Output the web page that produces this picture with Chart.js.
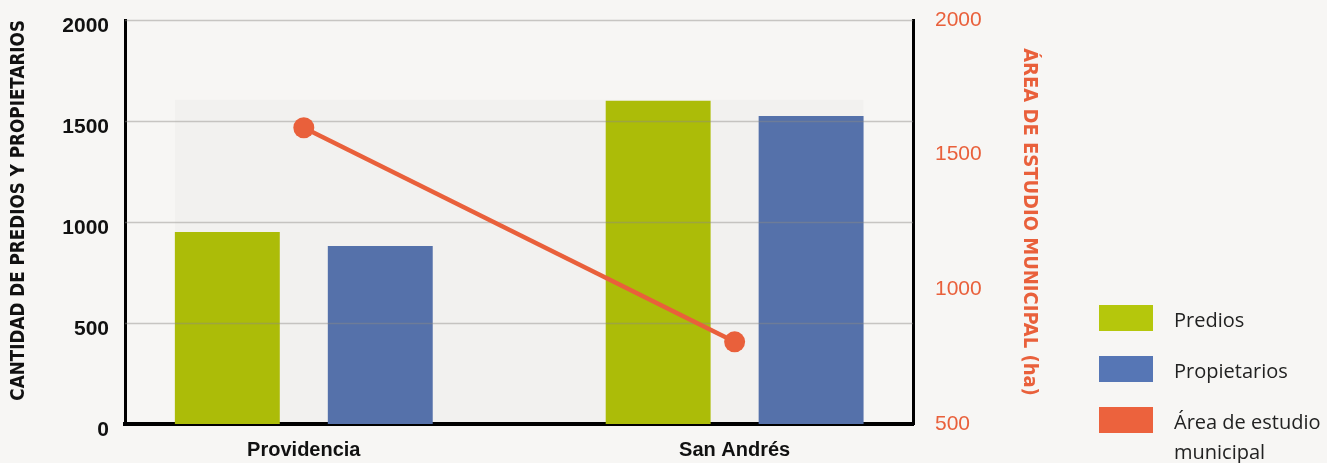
<!DOCTYPE html>
<html lang="es">
<head>
<meta charset="utf-8">
<title>Predios, propietarios y área de estudio</title>
<script src="https://cdn.jsdelivr.net/npm/chart.js@4.4.1/dist/chart.umd.min.js"></script>
<style>
    html, body {
        margin: 0;
        padding: 0;
        background: #f7f6f4;
    }
    .chart-wrap {
        position: relative;
        width: 1327px;
        height: 463px;
    }
    .legend {
        position: absolute;
        left: 1099px;
        top: 305px;
        font-family: 'Open Sans', 'Noto Sans', sans-serif;
        font-size: 20px;
        color: #222;
    }
    .legend-item {
        display: flex;
        align-items: flex-start;
        height: 51px;
    }
    .legend-swatch {
        width: 54px;
        height: 26px;
        flex: none;
    }
    .legend-label {
        margin-left: 21px;
        line-height: 30px;
        margin-top: 0;
    }
</style>
</head>
<body>
<div class="chart-wrap">
    <canvas id="areaChart" width="1327" height="463"></canvas>
    <div class="legend" id="areaLegend"></div>
</div>
<script>
const categories = ['Providencia', 'San Andrés'];
const predios = [950, 1600];
const propietarios = [881, 1525];
const areaEstudioHa = [1600, 805];
const countTicks = [0, 500, 1000, 1500, 2000];
const areaTicks = [500, 1000, 1500, 2000];

const legendItems = [
    { label: 'Predios', color: '#b5c70c' },
    { label: 'Propietarios', color: '#5676b5' },
    { label: 'Área de estudio<br>municipal', color: '#ec623d' },
];

document.addEventListener('DOMContentLoaded', () => {
    const chartElement = document.getElementById('areaChart');
    const legendElement = document.getElementById('areaLegend');

    const black = '#111111';
    const orange = '#e9603b';
    const tickFont = { family: "'Liberation Sans', Arial, sans-serif", size: 21, weight: 'bold' };
    const titleFamily = "'Liberation Sans Narrow', 'DejaVu Sans Condensed', sans-serif";

    const toPoints = (values) => values.map((value, index) => ({ x: index, y: value }));
    const plainNumber = (value) => String(value);

    // keep the plot box fixed: the reference puts it at 125..913 x 20..424
    const fixVertical = (width) => (scale) => {
        scale.width = width;
        scale.paddingTop = 0;
        scale.paddingBottom = 0;
    };

    // soft panel behind the bars, like the printed original
    const panelPlugin = {
        id: 'panel',
        beforeDatasetsDraw: (chart) => {
            const bars = [0, 1].flatMap((i) => chart.getDatasetMeta(i).data);
            if (bars.length === 0) {
                return;
            }
            const left = Math.min(...bars.map((bar) => bar.x - bar.width / 2));
            const right = Math.max(...bars.map((bar) => bar.x + bar.width / 2));
            const top = Math.min(...bars.map((bar) => bar.y)) - 1;
            const { ctx, chartArea } = chart;
            ctx.save();
            ctx.fillStyle = 'rgba(0, 0, 0, 0.02)';
            ctx.fillRect(left, top, right - left, chartArea.bottom - top);
            ctx.restore();
        },
    };

    // grid lines sit over the bars but under the line
    const gridPlugin = {
        id: 'gridOverBars',
        beforeDatasetDraw: (chart, args) => {
            if (args.index !== 2) {
                return;
            }
            const { ctx, chartArea, scales } = chart;
            ctx.save();
            ctx.strokeStyle = 'rgba(140, 138, 134, 0.45)';
            ctx.lineWidth = 1.5;
            countTicks.filter((value) => value > 0).forEach((value) => {
                const y = Math.round(scales.y.getPixelForValue(value)) + 0.5;
                ctx.beginPath();
                ctx.moveTo(chartArea.left, y);
                ctx.lineTo(chartArea.right, y);
                ctx.stroke();
            });
            ctx.restore();
        },
    };

    new Chart(chartElement, {
        type: 'bar',
        data: {
            datasets: [
                {
                    label: 'Predios',
                    data: toPoints(predios),
                    backgroundColor: '#acbc08',
                    yAxisID: 'y',
                    order: 1,
                },
                {
                    label: 'Propietarios',
                    data: toPoints(propietarios),
                    backgroundColor: '#5571aa',
                    yAxisID: 'y',
                    order: 1,
                },
                {
                    type: 'line',
                    label: 'Área de estudio municipal',
                    data: toPoints(areaEstudioHa),
                    borderColor: orange,
                    backgroundColor: orange,
                    borderWidth: 4.5,
                    pointRadius: 10.5,
                    pointHoverRadius: 10.5,
                    pointBorderWidth: 0,
                    yAxisID: 'y1',
                    order: 0,
                },
            ],
        },
        options: {
            responsive: false,
            animation: false,
            categoryPercentage: 0.71,
            barPercentage: 0.686,
            layout: {
                padding: { top: 20, right: 282, left: 0, bottom: 0 },
            },
            plugins: {
                legend: { display: false },
                tooltip: { enabled: false },
            },
            scales: {
                x: {
                    type: 'linear',
                    offset: false,
                    min: -0.415,
                    max: 1.414,
                    afterBuildTicks: (scale) => {
                        scale.ticks = categories.map((_, index) => ({ value: index }));
                    },
                    afterFit: (scale) => {
                        scale.height = 39;
                    },
                    grid: { display: false, drawTicks: false, offset: false },
                    border: { display: true, color: '#000', width: 4 },
                    ticks: {
                        autoSkip: false,
                        maxRotation: 0,
                        padding: 14,
                        color: black,
                        font: { ...tickFont, size: 20 },
                        callback: (value) => categories[value] ?? '',
                    },
                },
                y: {
                    position: 'left',
                    min: 0,
                    max: 2000,
                    afterBuildTicks: (scale) => {
                        scale.ticks = countTicks.map((value) => ({ value }));
                    },
                    afterFit: fixVertical(125),
                    grid: { display: false, drawTicks: false },
                    border: { display: true, color: '#000', width: 3 },
                    ticks: {
                        padding: 16,
                        labelOffset: 6,
                        color: black,
                        font: tickFont,
                        callback: plainNumber,
                    },
                    title: {
                        display: true,
                        text: 'CANTIDAD DE PREDIOS Y PROPIETARIOS',
                        color: black,
                        font: { family: titleFamily, size: 18.7, weight: 'bold' },
                        align: 'end',
                        padding: { top: 8, bottom: 0 },
                    },
                },
                y1: {
                    position: 'right',
                    min: 500,
                    max: 2000,
                    afterBuildTicks: (scale) => {
                        scale.ticks = areaTicks.map((value) => ({ value }));
                    },
                    afterFit: fixVertical(132),
                    grid: { display: false, drawTicks: false },
                    border: { display: true, color: '#000', width: 3 },
                    ticks: {
                        padding: 22,
                        color: orange,
                        font: { ...tickFont, weight: 'normal' },
                        callback: plainNumber,
                    },
                    title: {
                        display: true,
                        text: 'ÁREA DE ESTUDIO MUNICIPAL (ha)',
                        color: orange,
                        font: { family: titleFamily, size: 20, weight: 'bold' },
                        padding: { top: 4, bottom: 0 },
                    },
                },
            },
        },
        plugins: [panelPlugin, gridPlugin],
    });

    legendElement.innerHTML = legendItems
        .map((item) => `<div class="legend-item"><span class="legend-swatch" style="background:${item.color}"></span><span class="legend-label">${item.label}</span></div>`)
        .join('');
});
</script>
</body>
</html>
